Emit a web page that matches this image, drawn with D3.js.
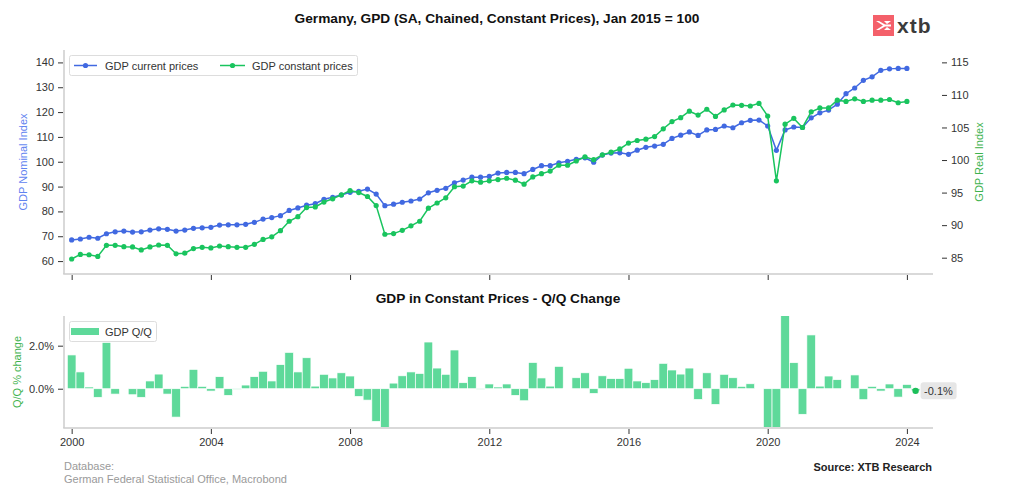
<!DOCTYPE html>
<html><head><meta charset="utf-8">
<script src="https://cdn.jsdelivr.net/npm/d3@7"></script>
<style>
body{margin:0;background:#fff;}
svg{display:block;font-family:"Liberation Sans",Arial,Helvetica,sans-serif;}
</style>
</head><body>
<svg id="c" width="1024" height="499"></svg>
<script>
// ---------- DATA ----------
// quarterly categories 2000Q1 .. 2024Q2
const quarters = d3.range(98).map(i => `${2000 + Math.floor(i / 4)}Q${i % 4 + 1}`);

// GDP current prices (nominal index, left axis), 2000Q1..2024Q1
const nominal = [
  68.5, 68.9, 69.6, 69.2, 71.0, 71.8, 72.1, 71.7, 71.8, 72.5,
  73.0, 72.8, 72.1, 72.5, 73.2, 73.4, 73.6, 74.5, 74.6, 74.6,
  74.8, 75.6, 76.9, 77.5, 78.3, 80.4, 81.4, 82.5, 83.1, 84.9,
  85.7, 86.6, 87.7, 88.1, 89.0, 87.0, 82.3, 82.9, 83.7, 84.2,
  85.0, 87.5, 88.5, 89.3, 91.55, 92.6, 93.8, 93.8, 94.1, 95.45,
  95.7, 95.7, 95.2, 96.9, 98.4, 98.4, 99.6, 100.2, 101.0, 101.6,
  99.8, 102.7, 103.5, 103.6, 103.0, 104.65, 105.8, 106.3, 107.0, 109.4,
  110.7, 112.0, 110.6, 112.8, 113.0, 114.4, 113.7, 115.7, 116.7, 116.8,
  114.4, 104.6, 112.8, 114.0, 113.8, 117.7, 119.7, 120.8, 123.2, 127.4,
  129.7, 132.8, 134.2, 136.8, 137.4, 137.6, 137.6
];

// GDP constant prices (real index, right axis), 2000Q1..2024Q1
const real = [
  84.8, 85.5, 85.45, 85.2, 86.9, 86.9, 86.7, 86.65, 86.2, 86.65,
  86.95, 86.9, 85.6, 85.7, 86.4, 86.6, 86.5, 86.8, 86.7, 86.6,
  86.6, 87.05, 87.8, 88.2, 89.15, 90.6, 91.3, 92.7, 92.8, 93.55,
  94.05, 94.65, 95.3, 95.0, 94.4, 93.0, 88.6, 88.7, 89.2, 89.9,
  90.6, 92.6, 93.4, 94.2, 95.9, 96.0, 96.8, 96.6, 96.8, 97.0,
  97.2, 96.9, 96.3, 97.4, 97.9, 98.3, 99.2, 99.2, 99.85, 100.5,
  100.05, 100.8, 101.2, 101.7, 102.6, 103.0, 103.2, 103.6, 104.8, 105.9,
  106.5, 107.5, 106.9, 107.8, 106.7, 107.7, 108.45, 108.4, 108.3, 108.7,
  106.75, 96.8, 105.5, 106.4, 105.0, 107.4, 108.0, 108.0, 109.2, 109.0,
  109.4, 109.0, 109.2, 109.2, 109.3, 108.8, 109.0
];

// GDP Q/Q % change, 2000Q1..2024Q2
const qoq = [
  1.57, 0.78, 0.08, -0.40, 2.15, -0.25, 0.02, -0.28, -0.40, 0.36,
  0.68, -0.25, -1.32, 0.11, 0.90, 0.11, -0.11, 0.56, -0.31, -0.03,
  0.17, 0.56, 0.81, 0.36, 1.12, 1.69, 0.78, 1.44, 0.12, 0.67,
  0.50, 0.74, 0.59, -0.36, -0.53, -1.52, -4.5, 0.26, 0.60, 0.78,
  0.71, 2.17, 0.96, 0.67, 1.80, 0.28, 0.56, -0.03, 0.22, 0.08,
  0.22, -0.31, -0.56, 1.22, 0.50, 0.12, 1.04, 0.03, 0.51, 0.74,
  -0.22, 0.60, 0.47, 0.47, 0.95, 0.36, 0.28, 0.42, 1.18, 0.87,
  0.68, 0.96, -0.50, 0.74, -0.73, 0.67, 0.51, 0.11, 0.23, 0.0,
  -2.0, -9.7, 8.9, 1.21, -1.19, 2.50, 0.12, 0.59, 0.42, 0.02,
  0.64, -0.51, 0.11, -0.11, 0.22, -0.39, 0.20, -0.10
];

const yearTicks = [2000, 2004, 2008, 2012, 2016, 2020, 2024];
const nominalTicks = [60, 70, 80, 90, 100, 110, 120, 130, 140];
const realTicks = [85, 90, 95, 100, 105, 110, 115];
const qoqTicks = [0, 2];

// ---------- STYLE ----------
const BLUE = "#4169e1", GREEN = "#19c45e", BAR = "#5ed99a";
const TXT = "#333333", SPINE = "#cccccc";

const qYear = q => +q.slice(0, 4) + (+q.slice(5) - 1) / 4;
const hy = s => s.replace("\u2212", "-");

const svg = d3.select("#c");

const x = d3.scaleLinear().domain([1999.78, 2024.75]).range([64, 933]);
const yL = d3.scaleLinear().domain([55.2, 145]).range([273, 50]);
const yR = d3.scaleLinear().domain([82.65, 116.9]).range([273, 50]);
const yB = d3.scaleLinear().domain([-1.78, 3.38]).range([427, 316]);

// ---------- TITLES ----------
svg.append("text").attr("x", 497).attr("y", 23).attr("text-anchor", "middle")
  .attr("font-size", 13.7).attr("font-weight", "bold").attr("fill", "#111")
  .text("Germany, GPD (SA, Chained, Constant Prices), Jan 2015 = 100");
svg.append("text").attr("x", 498).attr("y", 303).attr("text-anchor", "middle")
  .attr("font-size", 13.7).attr("font-weight", "bold").attr("fill", "#111")
  .text("GDP in Constant Prices - Q/Q Change");

// ---------- LOGO ----------
const logo = svg.append("g");
logo.append("rect").attr("x", 873).attr("y", 15).attr("width", 21).attr("height", 21).attr("fill", "#f4606a");
logo.append("path").attr("fill", "#fff")
  .attr("d", "M876,21 L883,25.5 L876,30 L879,30 L885,26.5 L891,26.5 L891,24.5 L885,24.5 L879,21 Z");
logo.append("path").attr("fill", "#fff")
  .attr("d", "M884,21 L891,21 L887,24 Z M884,30 L891,30 L887,27 Z");
logo.append("text").attr("x", 897).attr("y", 33).attr("font-size", 21).attr("font-weight", "bold")
  .attr("fill", "#3b3b3b").attr("letter-spacing", 1).text("xtb");

// ---------- TOP CHART ----------
const topG = svg.append("g");
topG.append("line").attr("x1", 64).attr("x2", 64).attr("y1", 50).attr("y2", 274)
  .attr("stroke", SPINE).attr("stroke-width", 1.5);
topG.append("line").attr("x1", 63.25).attr("x2", 933).attr("y1", 274).attr("y2", 274)
  .attr("stroke", SPINE).attr("stroke-width", 1.5);

function styleAxis(g) {
  g.select(".domain").remove();
  g.selectAll(".tick line").attr("stroke", TXT).attr("stroke-width", 1);
  g.selectAll(".tick text").attr("fill", TXT).attr("font-size", 11)
    .attr("font-family", '"Liberation Sans",Arial,sans-serif');
}

topG.append("g").attr("transform", "translate(63,0)")
  .call(d3.axisLeft(yL).tickValues(nominalTicks).tickSize(5).tickPadding(4))
  .call(styleAxis);
topG.append("g").attr("transform", "translate(942,0)")
  .call(d3.axisRight(yR).tickValues(realTicks).tickSize(5).tickPadding(4))
  .call(styleAxis);
topG.append("g").attr("transform", "translate(0,275)")
  .call(d3.axisBottom(x).tickValues(yearTicks).tickSize(5).tickFormat(""))
  .call(styleAxis);

svg.append("text").attr("transform", "translate(27,162) rotate(-90)").attr("text-anchor", "middle")
  .attr("font-size", 11).attr("fill", "#5f83f0").text("GDP Nominal Index");
svg.append("text").attr("transform", "translate(983,162) rotate(-90)").attr("text-anchor", "middle")
  .attr("font-size", 11).attr("fill", "#3fb34f").text("GDP Real Index");

const lineQ = quarters.slice(0, nominal.length);
function drawSeries(vals, yS, color) {
  const pts = vals.map((v, i) => [x(qYear(lineQ[i])), yS(v)]);
  topG.append("path").attr("d", d3.line()(pts)).attr("fill", "none")
    .attr("stroke", color).attr("stroke-width", 1.5);
  topG.append("g").selectAll("circle").data(pts).join("circle")
    .attr("cx", d => d[0]).attr("cy", d => d[1]).attr("r", 2.6).attr("fill", color);
}
drawSeries(nominal, yL, BLUE);
drawSeries(real, yR, GREEN);

// legend top
const lg = svg.append("g");
lg.append("rect").attr("x", 69.5).attr("y", 55.5).attr("width", 288).attr("height", 20).attr("rx", 2)
  .attr("fill", "#fff").attr("stroke", "#dddddd");
[[74, 97, BLUE, 105, "GDP current prices"], [220, 245, GREEN, 252, "GDP constant prices"]].forEach(e => {
  lg.append("line").attr("x1", e[0]).attr("x2", e[1]).attr("y1", 65.5).attr("y2", 65.5)
    .attr("stroke", e[2]).attr("stroke-width", 1.5);
  lg.append("circle").attr("cx", (e[0] + e[1]) / 2).attr("cy", 65.5).attr("r", 2.6).attr("fill", e[2]);
  lg.append("text").attr("x", e[3]).attr("y", 69.5).attr("font-size", 11).attr("fill", TXT).text(e[4]);
});

// ---------- BOTTOM CHART ----------
const botG = svg.append("g");
svg.append("defs").append("clipPath").attr("id", "clipB")
  .append("rect").attr("x", 64).attr("y", 316).attr("width", 869).attr("height", 111);

botG.append("line").attr("x1", 64).attr("x2", 64).attr("y1", 316).attr("y2", 428)
  .attr("stroke", SPINE).attr("stroke-width", 1.5);
botG.append("line").attr("x1", 63.25).attr("x2", 933).attr("y1", 428).attr("y2", 428)
  .attr("stroke", SPINE).attr("stroke-width", 1.5);

botG.append("g").attr("transform", "translate(63,0)")
  .call(d3.axisLeft(yB).tickValues(qoqTicks).tickSize(5).tickPadding(4).tickFormat(d => d3.format(".1f")(d) + "%"))
  .call(styleAxis);
botG.append("g").attr("transform", "translate(0,429)")
  .call(d3.axisBottom(x).tickValues(yearTicks).tickSize(5).tickPadding(4).tickFormat(d3.format("d")))
  .call(styleAxis);

svg.append("text").attr("transform", "translate(21,372) rotate(-90)").attr("text-anchor", "middle")
  .attr("font-size", 11).attr("fill", "#3fb34f").text("Q/Q % change");

const qw = x(2000.25) - x(2000);
botG.append("g").attr("clip-path", "url(#clipB)").selectAll("rect").data(qoq).join("rect")
  .attr("x", (d, i) => x(qYear(quarters[i])) - qw / 2)
  .attr("width", qw)
  .attr("y", d => yB(Math.max(0, d)))
  .attr("height", d => Math.abs(yB(d) - yB(0)))
  .attr("fill", BAR).attr("stroke", "#fff").attr("stroke-width", 0.7);

// last value annotation
const lastI = qoq.length - 1;
const lx = x(qYear(quarters[lastI])), ly = yB(qoq[lastI]);
botG.append("circle").attr("cx", lx).attr("cy", ly).attr("r", 3.2).attr("fill", "#1cbf5a");
botG.append("rect").attr("x", lx + 5).attr("y", ly - 8.5).attr("width", 36).attr("height", 17).attr("rx", 3)
  .attr("fill", "#e6e6e6");
botG.append("text").attr("x", lx + 8.5).attr("y", ly + 4).attr("font-size", 11).attr("fill", TXT)
  .text(hy(d3.format(".1f")(qoq[lastI])) + "%");

// legend bottom
const lb = svg.append("g");
lb.append("rect").attr("x", 69.5).attr("y", 321.5).attr("width", 87).attr("height", 20).attr("rx", 2)
  .attr("fill", "#fff").attr("stroke", "#dddddd");
lb.append("rect").attr("x", 71).attr("y", 328).attr("width", 28).attr("height", 7).attr("fill", BAR);
lb.append("text").attr("x", 105).attr("y", 335.5).attr("font-size", 11).attr("fill", TXT).text("GDP Q/Q");

// ---------- FOOTER ----------
svg.append("text").attr("x", 64).attr("y", 470).attr("font-size", 11).attr("fill", "#9a9a9a").text("Database:");
svg.append("text").attr("x", 64).attr("y", 483).attr("font-size", 11).attr("fill", "#9a9a9a")
  .text("German Federal Statistical Office, Macrobond");
svg.append("text").attr("x", 932).attr("y", 471).attr("text-anchor", "end").attr("font-size", 11)
  .attr("font-weight", "bold").attr("fill", "#222").text("Source: XTB Research");
</script>
</body></html>
